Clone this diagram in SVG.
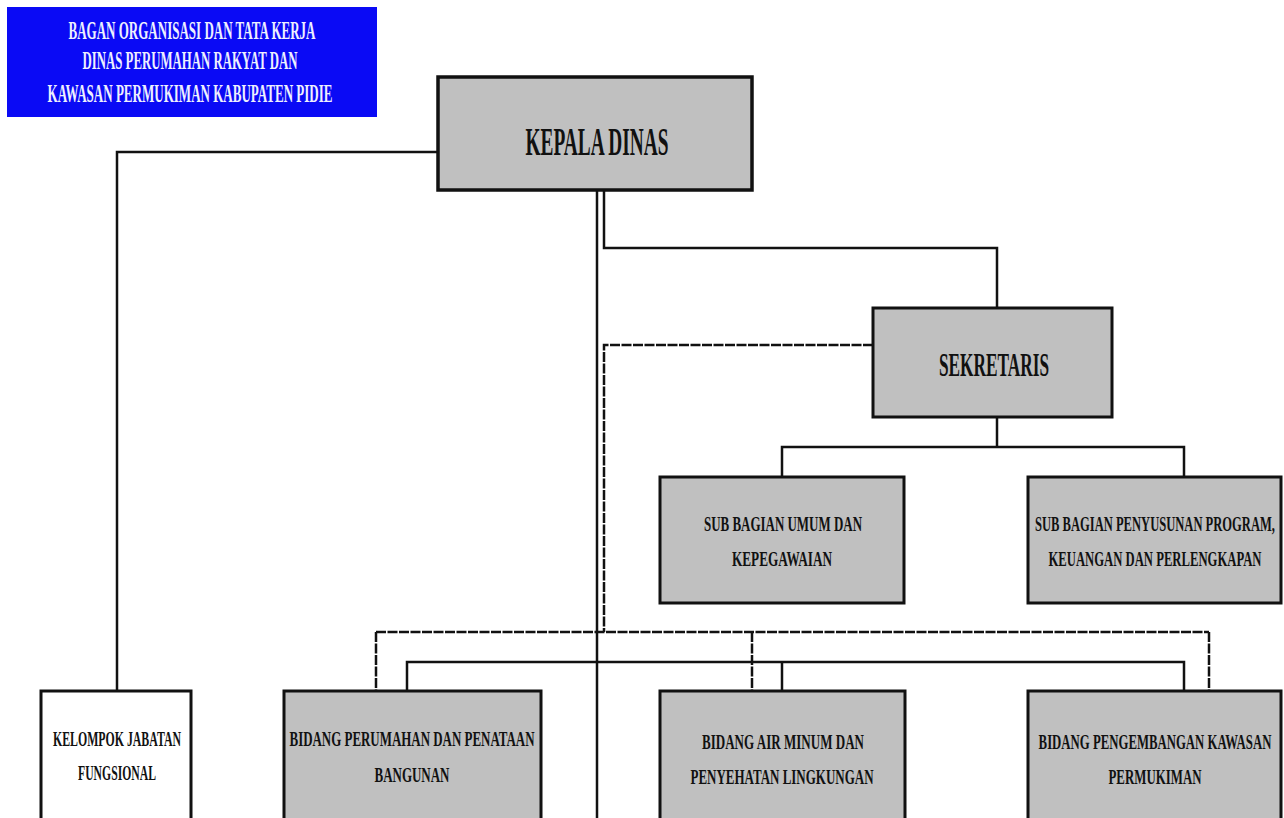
<svg xmlns="http://www.w3.org/2000/svg" width="1284" height="818" viewBox="0 0 1284 818">
<style>
.box{fill:#c0c0c0;stroke:#111;stroke-width:3}
.wbox{fill:#fff;stroke:#111;stroke-width:3}
.t{font-family:"Liberation Serif","DejaVu Serif",serif;font-weight:bold;fill:#111;text-anchor:middle}
.ttl{font-family:"Liberation Serif","DejaVu Serif",serif;font-weight:bold;fill:#eef0ff;text-anchor:middle;font-size:25px}
.ln{fill:none;stroke:#111;stroke-width:2.5}
.dl{fill:none;stroke:#111;stroke-width:2.5;stroke-dasharray:10 1.5}
</style>
<rect width="1284" height="818" fill="#fff"/>
<g id="title">
<rect x="7" y="7" width="370" height="110" fill="#0a0af5"/>
<text class="ttl" x="192" y="39" textLength="247" lengthAdjust="spacingAndGlyphs">BAGAN ORGANISASI DAN TATA KERJA</text>
<text class="ttl" x="190" y="69" textLength="215" lengthAdjust="spacingAndGlyphs">DINAS PERUMAHAN RAKYAT DAN</text>
<text class="ttl" x="190" y="102" textLength="285" lengthAdjust="spacingAndGlyphs">KAWASAN PERMUKIMAN KABUPATEN PIDIE</text>
</g>
<g id="connectors">
<polyline class="ln" points="438,152 117,152 117,691"/>
<line class="ln" x1="597" y1="190" x2="597" y2="818"/>
<polyline class="ln" points="604,190 604,248 997,248 997,308"/>
<polyline class="dl" points="873,345 604,345 604,632"/>
<line class="dl" x1="376" y1="632" x2="1209" y2="632"/>
<line class="dl" x1="376" y1="632" x2="376" y2="691"/>
<line class="dl" x1="752" y1="632" x2="752" y2="691"/>
<line class="dl" x1="1209" y1="632" x2="1209" y2="691"/>
<line class="ln" x1="997" y1="417" x2="997" y2="447"/>
<polyline class="ln" points="782,477 782,447 1184,447 1184,477"/>
<polyline class="ln" points="407,691 407,662 1184,662 1184,691"/>
<line class="ln" x1="782" y1="662" x2="782" y2="691"/>
</g>
<g id="kepala">
<rect class="box" x="438" y="77" width="314" height="113" style="stroke-width:3.5"/>
<text class="t" x="597" y="155" font-size="40" textLength="143" lengthAdjust="spacingAndGlyphs">KEPALA DINAS</text>
</g>
<g id="sekretaris">
<rect class="box" x="873" y="308" width="239" height="109"/>
<text class="t" x="994" y="376" font-size="34" textLength="110" lengthAdjust="spacingAndGlyphs">SEKRETARIS</text>
</g>
<g id="subumum">
<rect class="box" x="660" y="477" width="244" height="126"/>
<text class="t" x="783" y="531" font-size="21" textLength="158" lengthAdjust="spacingAndGlyphs">SUB BAGIAN UMUM DAN</text>
<text class="t" x="782" y="566" font-size="21" textLength="100" lengthAdjust="spacingAndGlyphs">KEPEGAWAIAN</text>
</g>
<g id="subprogram">
<rect class="box" x="1028" y="477" width="253" height="126"/>
<text class="t" transform="translate(1155,531) scale(0.6,1)" x="0" y="0" font-size="21" textLength="400" lengthAdjust="spacingAndGlyphs">SUB BAGIAN PENYUSUNAN PROGRAM,</text>
<text class="t" transform="translate(1155,566) scale(0.6,1)" x="0" y="0" font-size="21" textLength="355" lengthAdjust="spacingAndGlyphs">KEUANGAN DAN PERLENGKAPAN</text>
</g>
<g id="kelompok">
<rect class="wbox" x="41" y="691" width="150" height="140"/>
<text class="t" x="117" y="746" font-size="21" textLength="128" lengthAdjust="spacingAndGlyphs">KELOMPOK JABATAN</text>
<text class="t" x="117" y="780" font-size="21" textLength="78" lengthAdjust="spacingAndGlyphs">FUNGSIONAL</text>
</g>
<g id="bidangperumahan">
<rect class="box" x="284" y="691" width="257" height="140"/>
<text class="t" x="412" y="746" font-size="21" textLength="245" lengthAdjust="spacingAndGlyphs">BIDANG PERUMAHAN DAN PENATAAN</text>
<text class="t" x="412" y="782" font-size="21" textLength="75" lengthAdjust="spacingAndGlyphs">BANGUNAN</text>
</g>
<g id="bidangair">
<rect class="box" x="660" y="691" width="245" height="140"/>
<text class="t" x="783" y="749" font-size="21" textLength="162" lengthAdjust="spacingAndGlyphs">BIDANG AIR MINUM DAN</text>
<text class="t" x="782" y="784" font-size="21" textLength="183" lengthAdjust="spacingAndGlyphs">PENYEHATAN LINGKUNGAN</text>
</g>
<g id="bidangkawasan">
<rect class="box" x="1028" y="691" width="253" height="140"/>
<text class="t" transform="translate(1155,749) scale(0.6,1)" x="0" y="0" font-size="21" textLength="388" lengthAdjust="spacingAndGlyphs">BIDANG PENGEMBANGAN KAWASAN</text>
<text class="t" x="1155" y="784" font-size="21" textLength="93" lengthAdjust="spacingAndGlyphs">PERMUKIMAN</text>
</g>
</svg>
